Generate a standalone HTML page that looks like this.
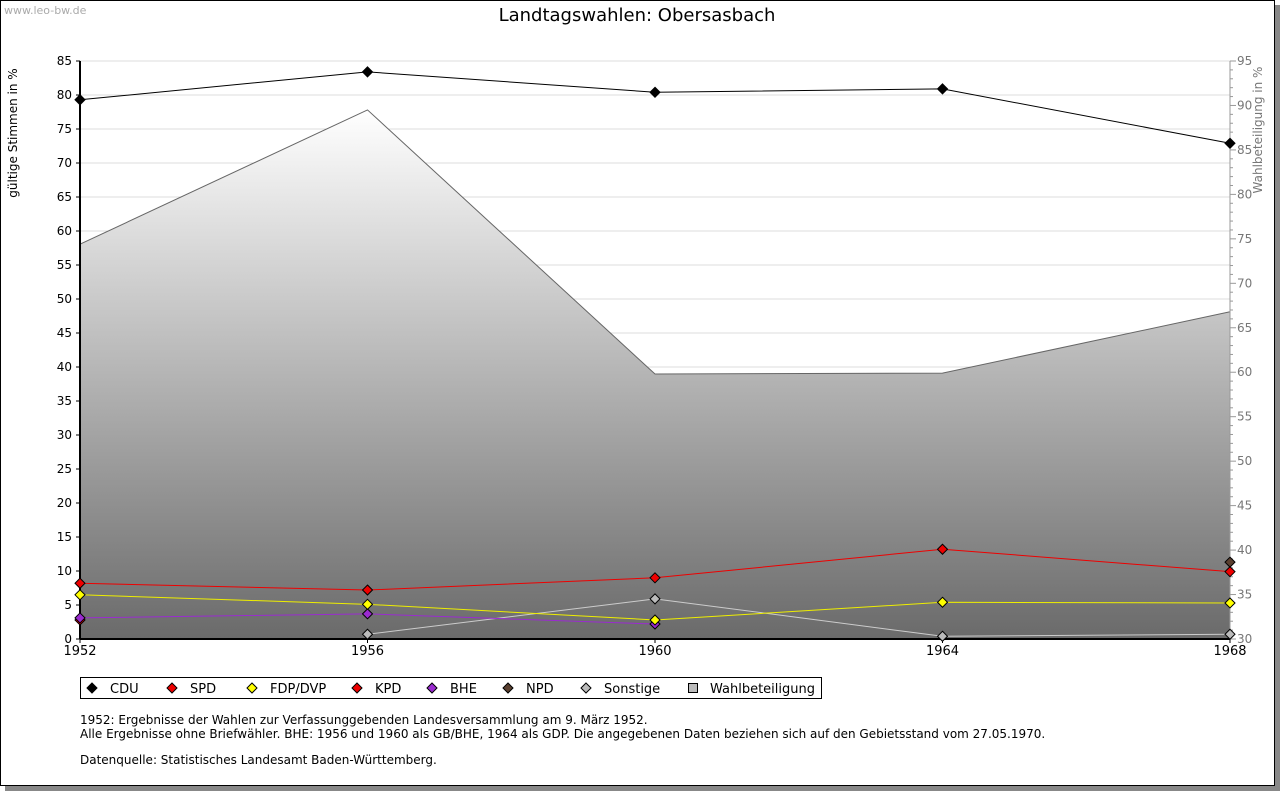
<!DOCTYPE html>
<html><head><meta charset="utf-8"><style>
body{margin:0;background:#fff;font-family:"Liberation Sans","DejaVu Sans",sans-serif}
svg text{font-family:"DejaVu Sans","Liberation Sans",sans-serif}
</style></head><body>
<svg id="c" width="1280" height="791" xmlns="http://www.w3.org/2000/svg">
<defs><linearGradient id="g" x1="0" y1="0" x2="0" y2="1"><stop offset="0" stop-color="#ffffff"/><stop offset="1" stop-color="#6a6a6a"/></linearGradient></defs>
<rect x="5" y="5" width="1275" height="786" fill="#888"/>
<rect x="0.5" y="0.5" width="1274" height="785" fill="#fff" stroke="#000"/>
<text x="4" y="14" font-size="11" fill="#aaa">www.leo-bw.de</text>
<text x="637" y="21" font-size="18" text-anchor="middle">Landtagswahlen: Obersasbach</text>
<g id="grid"></g><g id="area"></g><g id="axes"></g><g id="series"></g>
<text transform="translate(17,133) rotate(-90)" font-size="12" text-anchor="middle">gültige Stimmen in %</text>
<text transform="translate(1262,130) rotate(-90)" font-size="12" fill="#777" text-anchor="middle">Wahlbeteiligung in %</text>
<g id="legend"></g>
<g font-size="12">
<text x="80" y="724">1952: Ergebnisse der Wahlen zur Verfassunggebenden Landesversammlung am 9. März 1952.</text>
<text x="80" y="738">Alle Ergebnisse ohne Briefwähler. BHE: 1956 und 1960 als GB/BHE, 1964 als GDP. Die angegebenen Daten beziehen sich auf den Gebietsstand vom 27.05.1970.</text>
<text x="80" y="764">Datenquelle: Statistisches Landesamt Baden-Württemberg.</text>
</g>
</svg>
<script>
const years=[1952,1956,1960,1964,1968];
const turnout=[74.4,89.5,59.8,59.9,66.8];
const cdu=[79.3,83.4,80.4,80.9,72.9];
const spd=[8.2,7.2,9.0,13.2,9.9];
const fdp=[6.5,5.1,2.8,5.4,5.3];
const kpd=[2.8,null,null,null,null];
const bhe=[3.1,3.7,2.2,null,null];
const npd=[null,null,null,null,11.3];
const sonst=[null,0.7,5.9,0.4,0.7];
const leftTicks=[0,5,10,15,20,25,30,35,40,45,50,55,60,65,70,75,80,85];
const rightTicks=[30,35,40,45,50,55,60,65,70,75,80,85,90,95];
const NS='http://www.w3.org/2000/svg';
const X0=80,X1=1230,YT=61,YB=639;
const x=v=>X0+(v-1952)/(1968-1952)*(X1-X0);
const y=v=>YB-v/85*(YB-YT);
const y2=v=>YB-(v-30)/65*(YB-YT);
function mk(t,a,p){const e=document.createElementNS(NS,t);for(const k in a)e.setAttribute(k,a[k]);p.appendChild(e);return e;}
const grid=document.getElementById('grid'),axes=document.getElementById('axes'),area=document.getElementById('area'),ser=document.getElementById('series');
leftTicks.forEach(t=>{
 const l=mk('line',{x1:X0,x2:X1,y1:y(t),y2:y(t),stroke:'#ddd'},grid);
 
 
 mk('line',{x1:X0-4,x2:X0,y1:y(t),y2:y(t),stroke:'#000'},axes);
 const tx=mk('text',{x:X0-8,y:y(t)+4,'font-size':12,'text-anchor':'end'},axes);tx.textContent=t;
 
 
});
for(let v=30;v<=95;v++){mk('line',{x1:X1,x2:X1+(v%5?3:6),y1:y2(v),y2:y2(v),stroke:'#999'},axes);}
rightTicks.forEach(t=>{
 const tx=mk('text',{x:X1+7,y:y2(t)+4,'font-size':12,fill:'#777'},axes);tx.textContent=t;
 
 
});
let d='M'+x(years[0])+','+YB;years.forEach((yr,i)=>d+=' L'+x(yr)+','+y2(turnout[i]));d+=' L'+x(years[4])+','+YB+'Z';
const ar=mk('path',{d:d,fill:'url(#g)',stroke:'#666'},area);


mk('line',{x1:X0,x2:X0,y1:YT,y2:YB,stroke:'#000','stroke-width':2},axes);
mk('line',{x1:X1,x2:X1,y1:YT,y2:YB,stroke:'#999'},axes);
mk('line',{x1:X0,x2:X1,y1:YB,y2:YB,stroke:'#000','stroke-width':2},axes);
years.forEach(yr=>{mk('line',{x1:x(yr),x2:x(yr),y1:YB,y2:YB+4,stroke:'#000'},axes);
 const tx=mk('text',{x:x(yr),y:YB+16,'font-size':13,'text-anchor':'middle'},axes);tx.textContent=yr;
 
 });
function series(name,vals,col,fill){
 const g=mk('g',{},ser);
 
 
 let p='';vals.forEach((v,i)=>{if(v==null)return;p+=(p?' L':'M')+x(years[i])+','+y(v);});
 if(p)mk('path',{d:p,fill:'none',stroke:col,'stroke-width':1},g);
 vals.forEach((v,i)=>{if(v==null)return;const cx=x(years[i]),cy=y(v);
  const m=mk('path',{d:`M${cx},${cy-5} L${cx+5},${cy} L${cx},${cy+5} L${cx-5},${cy}Z`,fill:fill,stroke:'#000'},g);
  
  });
}
series('kpd',kpd,'#d00','#e00');
series('sonstige',sonst,'#ccc','#bbb');
series('bhe',bhe,'#9a2bd0','#9a2bd0');
series('fdp',fdp,'#ee0','#ff0');
series('spd',spd,'#e00','#e00');
series('npd',npd,'#5a4030','#5a4030');
series('cdu',cdu,'#000','#000');
const lg=document.getElementById('legend');
mk('rect',{x:80.5,y:677.5,width:741,height:21,fill:'#fff',stroke:'#000'},lg);
const items=[['CDU','#000',92],['SPD','#e00',172],['FDP/DVP','#ff0',252],['KPD','#e00',357],['BHE','#9a2bd0',432],['NPD','#5a4030',508],['Sonstige','#bbb',586]];
items.forEach(([t,c,px])=>{mk('path',{d:`M${px},683 L${px+5},688 L${px},693 L${px-5},688Z`,fill:c,stroke:'#000'},lg);
 const tx=mk('text',{x:px+18,y:693,'font-size':13},lg);tx.textContent=t;
 
 });
mk('rect',{x:688.5,y:683.5,width:9,height:9,fill:'#bbb',stroke:'#000'},lg);
const tw=mk('text',{x:710,y:693,'font-size':13},lg);tw.textContent='Wahlbeteiligung';


</script>
</body></html>
